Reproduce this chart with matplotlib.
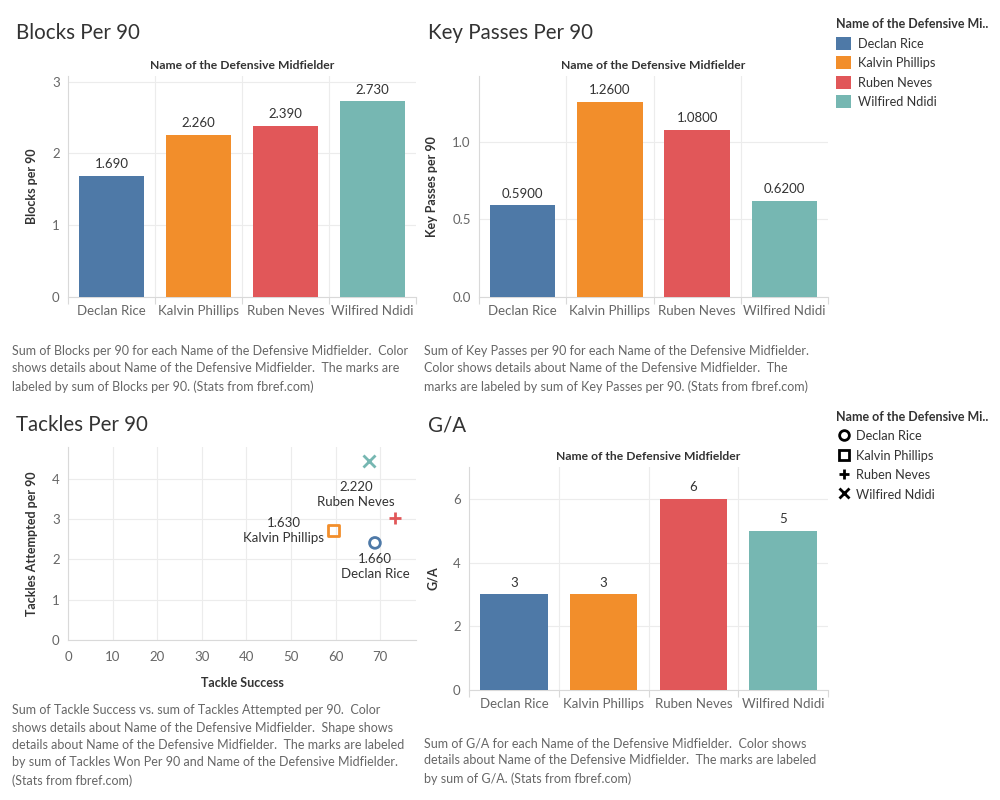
import matplotlib
matplotlib.use('Agg')
import matplotlib.pyplot as plt
from matplotlib.patches import Patch
from matplotlib.lines import Line2D

plt.rcParams['font.family'] = ['Lato', 'DejaVu Sans']

players = ['Declan Rice', 'Kalvin Phillips', 'Ruben Neves', 'Wilfired Ndidi']
colors = ['#4e79a7', '#f28e2b', '#e15759', '#76b7b2']

blocks = [1.69, 2.26, 2.39, 2.73]
key_passes = [0.59, 1.26, 1.08, 0.62]
ga = [3, 3, 6, 5]

tackle_success = [68.8, 59.5, 73.3, 67.5]
tackles_att = [2.41, 2.72, 3.02, 4.45]
tackles_won = [1.66, 1.63, 2.22, None]
markers = ['o', 's', '+', 'x']

GRID = '#ececec'
AXC = '#d9d9d9'
TXT = '#333333'
TICK = '#666666'
CAP = '#666666'

fig = plt.figure(figsize=(10, 8), dpi=100)


def style_axes(ax, grid_x=False):
    for s in ['top', 'right']:
        ax.spines[s].set_visible(False)
    for s in ['left', 'bottom']:
        ax.spines[s].set_color(AXC)
        ax.spines[s].set_linewidth(0.8)
    ax.tick_params(axis='y', length=0, labelsize=9.5, labelcolor=TICK, pad=6)
    ax.tick_params(axis='x', labelsize=9.5, labelcolor=TICK)
    ax.grid(axis='y', color=GRID, linewidth=0.8)
    if grid_x:
        ax.grid(axis='x', color=GRID, linewidth=0.8)
    ax.set_axisbelow(True)


def bar_panel(rect, values, ylim, yticks, ylabel, fmt, title, tx, ty, caption, cy):
    ax = fig.add_axes(rect)
    x = range(len(players))
    bars = ax.bar(x, values, width=0.75, color=colors, zorder=3)
    ax.set_xlim(-0.5, len(players) - 0.5)
    ax.set_ylim(*ylim)
    ax.set_yticks(yticks)
    ax.set_xticks(list(x))
    ax.set_xticklabels(players)
    ax.tick_params(axis='x', which='major', length=0, pad=6)
    ax.set_xticks([i - 0.5 for i in range(len(players) + 1)], minor=True)
    ax.tick_params(axis='x', which='minor', length=5, color=AXC, width=0.8)
    for b in [0.5, 1.5, 2.5]:
        ax.axvline(b, color=GRID, linewidth=0.8, zorder=1)
    style_axes(ax)
    for b, v in zip(bars, values):
        ax.annotate(fmt.format(v), (b.get_x() + b.get_width() / 2, v),
                    xytext=(0, 4), textcoords='offset points',
                    ha='center', va='bottom', fontsize=9.5, color=TXT)
    ax.set_ylabel(ylabel, fontsize=9, color=TXT, fontweight='bold', labelpad=10)
    ax.set_title('Name of the Defensive Midfielder', fontsize=8.7,
                 fontweight='bold', color=TXT, pad=5)
    fig.text(tx, ty, title, fontsize=14.8, color=TXT, va='center')
    fig.text(tx - 0.004, cy, caption, fontsize=9, color=CAP, va='top',
             linespacing=1.55)
    return ax


bar_panel([0.068, 0.62875, 0.348, 0.27625], blocks, (0, 3.08), [0, 1, 2, 3],
          'Blocks per 90', '{:.3f}', 'Blocks Per 90', 0.016, 1 - 33 / 800,
          'Sum of Blocks per 90 for each Name of the Defensive Midfielder.  Color\n'
          'shows details about Name of the Defensive Midfielder.  The marks are\n'
          'labeled by sum of Blocks per 90. (Stats from fbref.com)', 1 - 345 / 800)

bar_panel([0.479, 0.62875, 0.349, 0.27625], key_passes, (0, 1.425), [0.0, 0.5, 1.0],
          'Key Passes per 90', '{:.4f}', 'Key Passes Per 90', 0.428, 1 - 33 / 800,
          'Sum of Key Passes per 90 for each Name of the Defensive Midfielder.\n'
          'Color shows details about Name of the Defensive Midfielder.  The\n'
          'marks are labeled by sum of Key Passes per 90. (Stats from fbref.com)',
          1 - 345 / 800)

ax_ga = bar_panel([0.469, 0.1375, 0.359, 0.27875], ga, (0, 7.0), [0, 2, 4, 6],
                  'G/A', '{:d}', 'G/A', 0.428, 1 - 425 / 800,
                  'Sum of G/A for each Name of the Defensive Midfielder.  Color shows\n'
                  'details about Name of the Defensive Midfielder.  The marks are labeled\n'
                  'by sum of G/A. (Stats from fbref.com)', 1 - 737 / 800)
ax_ga.yaxis.set_major_formatter(matplotlib.ticker.FormatStrFormatter('%d'))

# scatter panel
ax = fig.add_axes([0.068, 0.2, 0.348, 0.24125])
for xs, ys, c, m in zip(tackle_success, tackles_att, colors, markers):
    if m in ['o', 's']:
        ax.scatter(xs, ys, marker=m, s=60, facecolors='none', edgecolors=c,
                   linewidths=2, zorder=3)
    else:
        ax.scatter(xs, ys, marker=m, s=75, color=c, linewidths=2, zorder=3)
ax.set_xlim(0, 78)
ax.set_ylim(0, 4.79)
ax.set_xticks(range(0, 80, 10))
ax.set_yticks([0, 1, 2, 3, 4])
ax.tick_params(axis='x', length=0, pad=8)
style_axes(ax, grid_x=True)
ax.set_xlabel('Tackle Success', fontsize=9, color=TXT, fontweight='bold', labelpad=10)
ax.set_ylabel('Tackles Attempted per 90', fontsize=9, color=TXT, fontweight='bold',
              labelpad=10)
offsets = [(0, -17), (-36, 0), (-28, 17), None]
for i, off in enumerate(offsets):
    if off is None:
        continue
    ax.annotate('{:.3f}\n{}'.format(tackles_won[i], players[i]),
                (tackle_success[i], tackles_att[i]), xytext=off,
                textcoords='offset points', ha='center', va='center',
                fontsize=9.5, color=TXT, linespacing=1.3)
fig.text(0.016, 1 - 425 / 800, 'Tackles Per 90', fontsize=14.8, color=TXT, va='center')
fig.text(0.012, 1 - 704 / 800,
         'Sum of Tackle Success vs. sum of Tackles Attempted per 90.  Color\n'
         'shows details about Name of the Defensive Midfielder.  Shape shows\n'
         'details about Name of the Defensive Midfielder.  The marks are labeled\n'
         'by sum of Tackles Won Per 90 and Name of the Defensive Midfielder.\n'
         '(Stats from fbref.com)', fontsize=9, color=CAP, va='top', linespacing=1.55)

# legends
color_handles = [Patch(facecolor=c, edgecolor='none') for c in colors]
leg1 = fig.legend(color_handles, players, loc='upper left',
                  bbox_to_anchor=(0.836, 0.977), frameon=False, fontsize=9.2,
                  title='Name of the Defensive Mi..', alignment='left',
                  handlelength=1.2, handleheight=1.2, handletextpad=0.5,
                  labelspacing=0.5, borderaxespad=0, borderpad=0)
leg1.get_title().set_fontsize(9)
leg1.get_title().set_fontweight('bold')
leg1.get_title().set_color(TXT)
for t in leg1.get_texts():
    t.set_color(TXT)

shape_handles = []
for m in markers:
    if m in ['o', 's']:
        shape_handles.append(Line2D([], [], marker=m, linestyle='none', markersize=7,
                                    markerfacecolor='none', markeredgecolor='black',
                                    markeredgewidth=2))
    else:
        shape_handles.append(Line2D([], [], marker=m, linestyle='none', markersize=7,
                                    color='black', markeredgewidth=2))
leg2 = fig.legend(shape_handles, players, loc='upper left',
                  bbox_to_anchor=(0.836, 0.486), frameon=False, fontsize=9.2,
                  title='Name of the Defensive Mi..', alignment='left',
                  handlelength=1.2, handleheight=1.2, handletextpad=0.4,
                  labelspacing=0.5, borderaxespad=0, borderpad=0)
leg2.get_title().set_fontsize(9)
leg2.get_title().set_fontweight('bold')
leg2.get_title().set_color(TXT)
for t in leg2.get_texts():
    t.set_color(TXT)

plt.savefig('out.png', dpi=100)
